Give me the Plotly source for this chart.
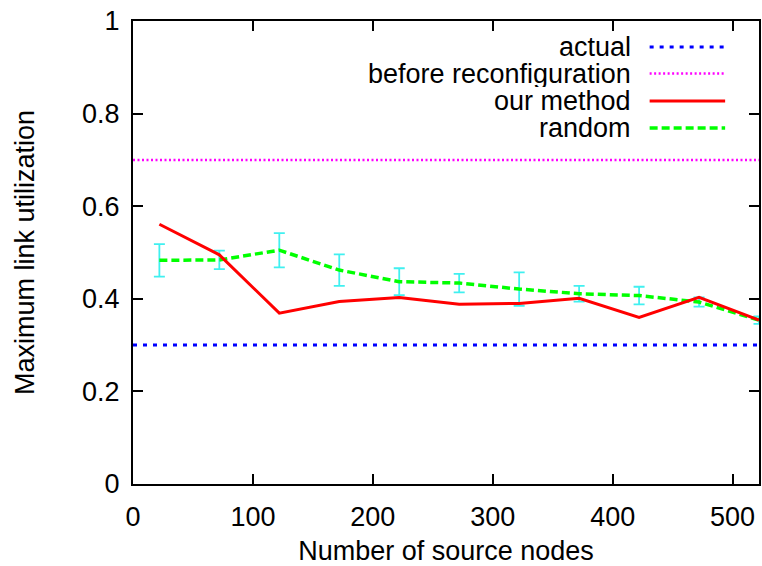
import plotly.graph_objects as go

# ---- data ----
source_nodes = [22, 72, 122, 172, 222, 272, 322, 372, 422, 472, 522]
our_method = [0.561, 0.495, 0.369, 0.394, 0.403, 0.388, 0.390, 0.401, 0.360, 0.403, 0.354]
random_vals = [0.483, 0.484, 0.505, 0.462, 0.437, 0.434, 0.421, 0.411, 0.407, 0.393, 0.354]
random_err = [0.035, 0.020, 0.037, 0.034, 0.029, 0.020, 0.036, 0.017, 0.019, 0.010, 0.008]
line_x = [0, 522]
actual_val = 0.3
before_val = 0.7
x_ticks = [0, 100, 200, 300, 400, 500]
y_ticks = [0, 0.2, 0.4, 0.6, 0.8, 1]
y_tick_text = ["0", "0.2", "0.4", "0.6", "0.8", "1"]
legend_names = ["actual", "before reconfiguration", "our method", "random"]

FONT = "Liberation Sans, Arial, sans-serif"
FS = 27

fig = go.Figure()
fig.add_trace(go.Scatter(x=line_x, y=[actual_val] * len(line_x), mode="lines",
                         line=dict(color="#0000ff", width=3, dash="4px,6px"),
                         showlegend=False, name=legend_names[0]))
fig.add_trace(go.Scatter(x=line_x, y=[before_val] * len(line_x), mode="lines",
                         line=dict(color="#ff00ff", width=2.5, dash="2px,2.5px"),
                         showlegend=False, name=legend_names[1]))
fig.add_trace(go.Scatter(x=source_nodes, y=random_vals, mode="markers",
                         marker=dict(size=1, color="rgba(0,0,0,0)"),
                         error_y=dict(type="data", array=random_err, visible=True,
                                      color="#40f0f0", thickness=1.8, width=5.5),
                         showlegend=False, hoverinfo="skip"))
fig.add_trace(go.Scatter(x=source_nodes, y=random_vals, mode="lines",
                         line=dict(color="#00ff00", width=3.5, dash="8px,4px"),
                         showlegend=False, name=legend_names[3]))
fig.add_trace(go.Scatter(x=source_nodes, y=our_method, mode="lines",
                         line=dict(color="#ff0000", width=3),
                         showlegend=False, name=legend_names[2]))

# manual gnuplot-style legend (text right, sample on the right)
leg_styles = [
    dict(color="#0000ff", width=3, dash="4px,6px"),
    dict(color="#ff00ff", width=2.5, dash="2px,2.5px"),
    dict(color="#ff0000", width=3, dash="solid"),
    dict(color="#00ff00", width=3.5, dash="8px,4px"),
]
leg_y = [0.944, 0.8866, 0.8274, 0.769]
for name, sty, yy in zip(legend_names, leg_styles, leg_y):
    fig.add_annotation(x=0.7965, y=yy, xref="paper", yref="paper", text=name,
                       showarrow=False, xanchor="right", yanchor="middle",
                       height=26, valign="middle", borderpad=0,
                       font=dict(family=FONT, size=FS, color="black"))
    fig.add_shape(type="line", xref="paper", yref="paper", x0=0.8253, x1=0.9459,
                  y0=yy, y1=yy, line=sty)

axis_common = dict(showline=True, linecolor="black", linewidth=2, mirror="allticks",
                   ticks="inside", ticklen=10, tickwidth=1.5, tickcolor="black",
                   showgrid=False, zeroline=False,
                   tickfont=dict(family=FONT, size=FS, color="black"))

fig.update_xaxes(range=[0, 522], tickvals=x_ticks, ticklabelstandoff=8,
                 title=dict(text="Number of source nodes", standoff=10,
                            font=dict(family=FONT, size=FS, color="black")),
                 **axis_common)
fig.update_yaxes(range=[0, 1], tickvals=y_ticks, ticktext=y_tick_text, ticklabelstandoff=6,
                 title=dict(text="Maximum link utilization", standoff=40,
                            font=dict(family=FONT, size=FS, color="black")),
                 **axis_common)

fig.update_layout(width=762, height=566, margin=dict(l=133, r=1, t=21, b=82),
                  plot_bgcolor="white", paper_bgcolor="white", showlegend=False)

fig.write_html("out.html", config={"displayModeBar": False},
               post_script="document.body.style.margin='0';document.body.style.padding='0';")
